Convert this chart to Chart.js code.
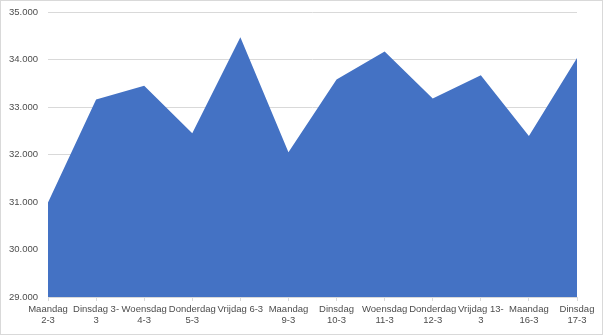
<!DOCTYPE html>
<html>
<head>
<meta charset="utf-8">
<script src="https://cdn.jsdelivr.net/npm/chart.js@4/dist/chart.umd.min.js"></script>
<style>
    body { margin: 0; background: #fff; }
    #wrap { position: absolute; left: 0; top: 0; width: 601px; height: 333px; border: 1px solid #d9d9d9; }
</style>
</head>
<body>
<div id="wrap"><canvas id="areaChart" width="601" height="333"></canvas></div>
<script>
// categorieen (x-as), twee regels zoals in de bron
var dagen = [
    ['Maandag', '2-3'], ['Dinsdag 3-', '3'], ['Woensdag', '4-3'], ['Donderdag', '5-3'],
    'Vrijdag 6-3', ['Maandag', '9-3'], ['Dinsdag', '10-3'], ['Woensdag', '11-3'],
    ['Donderdag', '12-3'], ['Vrijdag 13-', '3'], ['Maandag', '16-3'], ['Dinsdag', '17-3']
];
var waarden = [30990, 33160, 33450, 32450, 34470, 32050, 33580, 34170, 33180, 33670, 32390, 34030];
var yMin = 29000, yMax = 35000, yStap = 1000;

function formatNL(v) {
    return v.toLocaleString('nl-NL', { minimumFractionDigits: 0 });
}

var ctx = document.getElementById('areaChart').getContext('2d');
var chart = new Chart(ctx, {
    type: 'line',
    data: {
        labels: dagen,
        datasets: [{
            data: waarden,
            backgroundColor: '#4472c4',
            borderColor: '#4472c4',
            borderWidth: 0,
            pointRadius: 0,
            tension: 0,
            fill: 'start'
        }]
    },
    options: {
        responsive: false,
        animation: false,
        layout: { padding: { top: 11, right: 25, left: 0, bottom: 0 } },
        plugins: { legend: { display: false }, tooltip: { enabled: false } },
        scales: {
            x: {
                offset: false,
                grid: { drawOnChartArea: false, drawTicks: true, tickLength: 4, color: '#d9d9d9' },
                border: { color: '#d9d9d9' },
                ticks: {
                    color: '#4d4d4d', maxRotation: 0, autoSkip: false, padding: 3,
                    font: { family: 'Liberation Sans, Arial', size: 9.5, lineHeight: 1.15 }
                },
                afterFit: function (scale) { scale.height = 37; }
            },
            y: {
                min: yMin, max: yMax,
                grid: { color: '#d9d9d9', drawTicks: false },
                border: { display: false },
                ticks: {
                    stepSize: yStap, color: '#4d4d4d', padding: 10,
                    font: { family: 'Liberation Sans, Arial', size: 9.5 },
                    callback: function (v) { return formatNL(v); }
                },
                afterFit: function (scale) {
                    scale.width = 47;
                    scale.paddingTop = 0;
                    scale.paddingBottom = 0;
                }
            }
        }
    }
});
</script>
</body>
</html>
